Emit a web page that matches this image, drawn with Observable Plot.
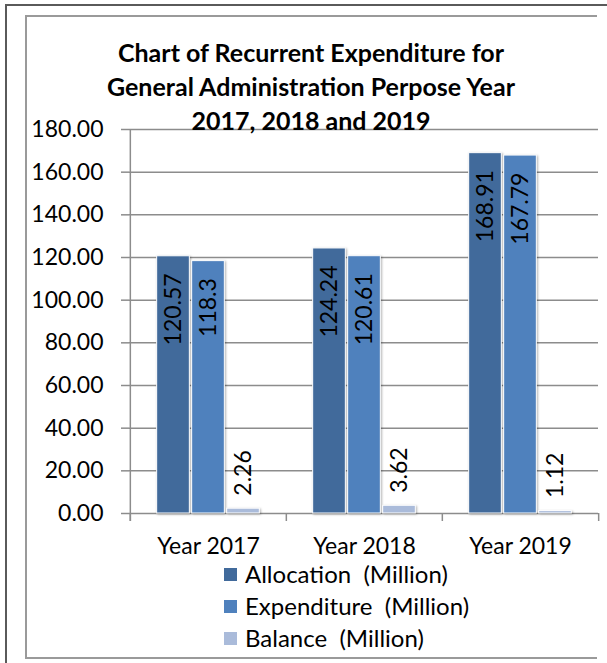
<!DOCTYPE html>
<html>
<head>
<meta charset="utf-8">
<script src="https://cdn.jsdelivr.net/npm/d3@7"></script>
<script src="https://cdn.jsdelivr.net/npm/@observablehq/plot@0.6"></script>
<style>
  html, body { margin: 0; padding: 0; background: #fff; }
  body { width: 607px; height: 663px; position: relative; overflow: hidden; font-family: Lato, sans-serif; }
  .outer { position: absolute; left: 5px; top: 4px; width: 640px; height: 700px; border-left: 2px solid #5a5a5a; border-top: 2px solid #5a5a5a; }
  .inner { position: absolute; left: 25px; top: 15px; width: 570px; height: 640px; border-left: 2px solid #9a9a9a; border-top: 2px solid #9a9a9a; border-bottom: 2px solid #9a9a9a; }
  #chart { position: absolute; left: 0; top: 0; }
  .title { position: absolute; left: 0; width: 622px; top: 35px; text-align: center; font-weight: bold; font-size: 25px; line-height: 34px; color: #000; z-index: 2; }
  .legend { position: absolute; left: 224px; top: 558px; font-size: 24px; line-height: 32px; color: #000; z-index: 2; }
  .legend div { white-space: pre; display: flex; align-items: center; }
  .legend span.sw { display: inline-block; width: 13px; height: 13px; margin-right: 8px; }
  #chart g[aria-label="bar"] rect { filter: drop-shadow(1px 1px 1px rgba(0,0,0,0.3)); }
</style>
</head>
<body>
<div class="outer"></div>
<div class="inner"></div>
<div id="chart"></div>
<div class="title">Chart of Recurrent Expenditure for<br>General Administration Perpose Year<br>2017, 2018 and 2019</div>
<div class="legend" id="legend"></div>
<script>
const years = ["Year 2017", "Year 2018", "Year 2019"];
const seriesNames = ["Allocation  (Million)", "Expenditure  (Million)", "Balance  (Million)"];
const allocation = [120.57, 124.24, 168.91];
const expenditure = [118.3, 120.61, 167.79];
const balance = [2.26, 3.62, 1.12];
const labelText = [["120.57", "124.24", "168.91"], ["118.3", "120.61", "167.79"], ["2.26", "3.62", "1.12"]];
const yTicks = [0, 20, 40, 60, 80, 100, 120, 140, 160, 180];
const colors = ["#416A9B", "#4F81BD", "#AABBDA"];

const seriesValues = [allocation, expenditure, balance];
const rows = [];
seriesValues.forEach((vals, s) => vals.forEach((v, i) => rows.push({year: years[i], series: s, value: v, label: labelText[s][i]})));

const W = 607, H = 663;
const mL = 129, mR = 9, mT = 129, mB = 150;
const band = (W - mL - mR) / years.length;
const barW = 33, step = 35;
const off = [-step, 0, step];
const yPerUnit = (H - mT - mB) / 180;
const tickLen = 8 / yPerUnit;

const marks = [
  Plot.ruleY(yTicks, {stroke: "#8c8c8c", strokeWidth: 1.5}),
];
seriesValues.forEach((vals, s) => {
  const left = band / 2 + off[s] - barW / 2;
  const right = band - left - barW;
  marks.push(Plot.barY(rows.filter(r => r.series === s), {
    x: "year", y: "value", fill: colors[s], stroke: "#ffffff", strokeWidth: 1,
    insetLeft: left, insetRight: right
  }));
});
// axis lines and category boundary ticks
marks.push(Plot.ruleX(years, {x: d => d, dx: -band / 2, y1: -tickLen, y2: 0, stroke: "#8c8c8c", strokeWidth: 1.5}));
marks.push(Plot.ruleX([years[years.length - 1]], {x: d => d, dx: band / 2, y1: -tickLen, y2: 0, stroke: "#8c8c8c", strokeWidth: 1.5}));
marks.push(Plot.ruleX([years[0]], {x: d => d, dx: -band / 2, y1: -tickLen, y2: 180, stroke: "#8c8c8c", strokeWidth: 1.5}));
// labels
seriesValues.forEach((vals, s) => {
  const inside = s < 2;
  marks.push(Plot.text(rows.filter(r => r.series === s), {
    x: "year", y: "value", text: "label", rotate: -90,
    textAnchor: inside ? "end" : "start",
    dx: off[s], dy: inside ? 17 : -13,
    fill: "#000", fontSize: 23
  }));
});

const chart = Plot.plot({
  width: W, height: H,
  marginLeft: mL, marginRight: mR, marginTop: mT, marginBottom: mB,
  style: {fontFamily: "Lato, sans-serif", fontSize: "23px", color: "#000", background: "transparent", overflow: "visible"},
  x: {domain: years, padding: 0, tickSize: 0, tickPadding: 24, label: null},
  y: {domain: [0, 180], ticks: yTicks, tickFormat: d3.format(".2f"), tickSize: 8, tickPadding: 18, label: null},
  marks
});
document.getElementById("chart").appendChild(chart);

// style axis ticks
d3.select(chart).selectAll('g[aria-label="y-axis tick"] path, g[aria-label="y-axis"] path').attr("stroke", "#8c8c8c").attr("stroke-width", 1.5);

const lg = document.getElementById("legend");
seriesNames.forEach((name, s) => {
  const row = document.createElement("div");
  const sw = document.createElement("span");
  sw.className = "sw"; sw.style.background = colors[s];
  row.appendChild(sw);
  row.appendChild(document.createTextNode(name));
  lg.appendChild(row);
});
</script>
</body>
</html>
